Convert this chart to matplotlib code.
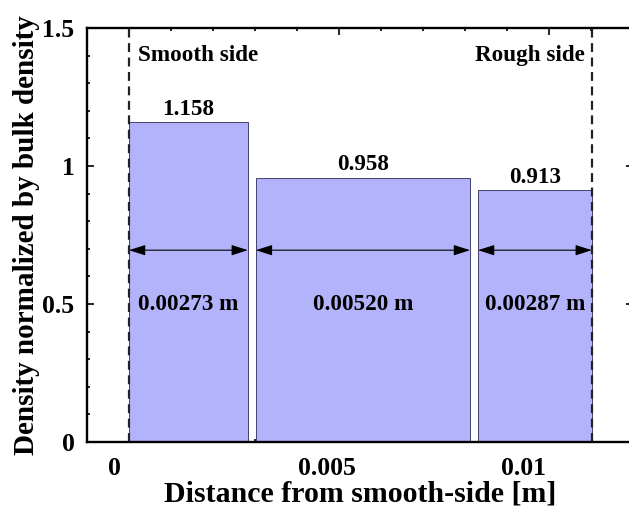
import numpy as np
import matplotlib
matplotlib.use("Agg")
import matplotlib.pyplot as plt
from matplotlib.ticker import MultipleLocator
from matplotlib.transforms import ScaledTranslation

plt.rcParams["font.family"] = ["Liberation Serif", "DejaVu Serif"]
plt.rcParams["font.weight"] = "bold"

# Layer edges along the gap [m] and normalized density of each layer
bar_left = [0.0, 0.00302, 0.00831]
bar_right = [0.00283, 0.00812, 0.01102]
density = [1.158, 0.958, 0.913]
thickness_labels = ["0.00273 m", "0.00520 m", "0.00287 m"]
density_labels = ["1.158", "0.958", "0.913"]
wall_x = [0.0, 0.01102]
xticks = [0, 0.005, 0.01]
xtick_labels = ["0", "0.005", "0.01"]
yticks = [0, 0.5, 1, 1.5]
ytick_labels = ["0", "0.5", "1", "1.5"]

fig = plt.figure(figsize=(6.29, 5.15), dpi=100)
ax = fig.add_axes([87 / 629, 73 / 515, 546 / 629, 414 / 515])

left = np.array(bar_left)
width = np.array(bar_right) - left
ax.bar(left, density, width=width, align="edge", color="#b3b3fb",
       edgecolor="#2a2a55", linewidth=0.6, zorder=2)

for x in wall_x:
    ax.axvline(x, color="#222222", linestyle=(0, (4, 2.5)), linewidth=1.6, zorder=3)

for l, r, d, tl, dl in zip(bar_left, bar_right, density, thickness_labels, density_labels):
    ax.annotate("", xy=(l, 0.695), xytext=(r, 0.695),
                arrowprops=dict(arrowstyle="<|-|>,head_length=1.0,head_width=0.32",
                                color="black", linewidth=0.8, shrinkA=0, shrinkB=0),
                zorder=4)
    ax.text((l + r) / 2, 0.5, tl, ha="center", va="center", fontsize=16.7,
            fontweight="bold", zorder=5)
    ax.text((l + r) / 2, d + 0.008, dl, ha="center", va="bottom", fontsize=16.7,
            fontweight="bold", zorder=5)

ax.text(0.00022, 1.4, "Smooth side", ha="left", va="center", fontsize=16.7,
        fontweight="bold")
ax.text(0.01086, 1.4, "Rough side", ha="right", va="center", fontsize=16.7,
        fontweight="bold")

ax.set_xlim(-0.001, 0.012)
ax.set_ylim(0, 1.5)
ax.set_xticks(xticks)
ax.set_xticklabels(xtick_labels)
ax.set_yticks(yticks)
ax.set_yticklabels(ytick_labels)
ax.xaxis.set_minor_locator(MultipleLocator(0.001))
ax.yaxis.set_minor_locator(MultipleLocator(0.1))
ax.tick_params(which="both", direction="in", top=True, right=True,
               labelsize=18.5, width=1.2)
ax.tick_params(axis="x", pad=11)
ax.tick_params(axis="y", pad=9)
ax.tick_params(which="major", length=5)
ax.tick_params(which="minor", length=2.5)
for s in ax.spines.values():
    s.set_linewidth(1.7)
    s.set_zorder(6)

# shift the x tick labels a little to the left
for lab, dx in zip(ax.get_xticklabels(), [-15, -12, -26]):
    lab.set_transform(lab.get_transform() + ScaledTranslation(dx / 100, 0, fig.dpi_scale_trans))

ax.set_xlabel("Distance from smooth-side [m]", fontsize=21.5, fontweight="bold",
              labelpad=0)
ax.set_ylabel("Density normalized by bulk density", fontsize=21,
              fontweight="bold", labelpad=2)

fig.savefig("out.png", dpi=100)
